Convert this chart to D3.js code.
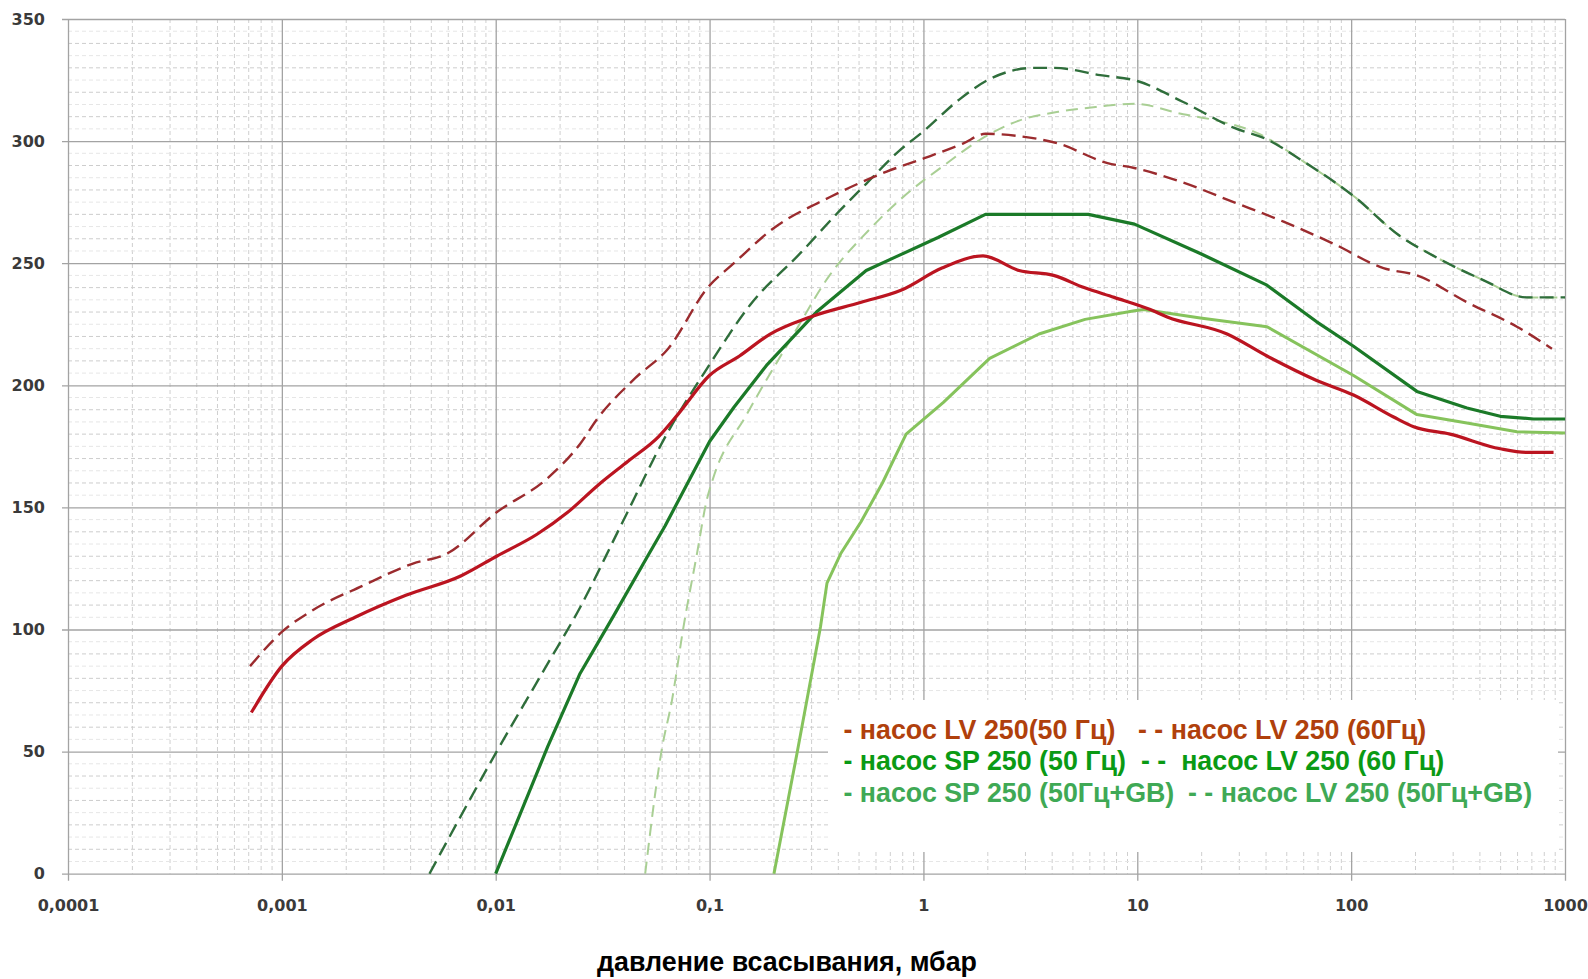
<!DOCTYPE html>
<html>
    <head>
        <title>давление всасывания</title>
        <meta charset="utf-8">
        <script src="https://d3js.org/d3.v7.min.js"></script>
        <style>
            body { margin: 0; background: #fff; }
            .tick text { font-family: "DejaVu Sans", sans-serif; font-weight: bold; font-size: 16px; fill: #3a3a3a; }
            .legend_text { font-family: "Liberation Sans", Arial, sans-serif; font-weight: bold; font-size: 26.8px; white-space: pre; }
            .axis_title { font-family: "Liberation Sans", Arial, sans-serif; font-weight: bold; font-size: 26.8px; fill: #000; }
        </style>
    </head>
    <body>
        <div id="container"></div>
        <script>
            // Data (pressure in mbar, value)
            const lv50_x = [0.00072, 0.001, 0.0014, 0.0022, 0.0038, 0.0069, 0.0101, 0.0156, 0.0217, 0.030, 0.0417, 0.0578, 0.071, 0.0998, 0.138, 0.192, 0.296, 0.512, 0.79, 1.22, 1.9, 2.8, 4.06, 5.64, 7.8, 11.5, 13.8, 26.3, 40.4, 69, 102.6, 158, 196, 290, 498, 664, 884]
            const lv50_y = [66, 85, 96, 105, 114, 122, 130, 139, 148, 159, 169, 179, 188, 204, 212, 221, 228, 234, 239, 248, 253, 247, 245, 240, 236, 231, 228, 221, 212, 202, 196, 187, 183, 180, 174, 172.5, 172.5]

            const lv60_x = [0.00071, 0.001, 0.0014, 0.0024, 0.0041, 0.0059, 0.0101, 0.0175, 0.0248, 0.0297, 0.045, 0.064, 0.098, 0.13, 0.197, 0.364, 0.673, 1.01, 1.53, 1.95, 2.82, 4.27, 7.26, 9.68, 16.4, 28.2, 48.3, 82.6, 141.6, 203, 348, 596, 869]
            const lv60_y = [85, 99, 108, 118, 127, 131, 148, 162, 176, 186, 203, 215, 240, 250, 264, 277, 287.5, 293, 299, 303, 302, 299, 291, 289, 283, 275, 267, 258, 248, 245, 234, 224, 215]

            const sp50_x = [0.01, 0.0175, 0.0248, 0.0358, 0.0513, 0.062, 0.079, 0.1, 0.13, 0.186, 0.316, 0.54, 0.76, 1.17, 1.95, 5.9, 9.7, 19.7, 40.4, 69, 102.6, 203, 348, 498, 713, 1000]
            const sp50_y = [0, 52, 82, 106, 130, 142.5, 160, 177, 191, 208.5, 230, 247, 253, 260.5, 270, 270, 266, 254, 241, 226, 216, 197.5, 190.7, 187.3, 186.2, 186.2]

            const lv60g_x = [0.0049, 0.0101, 0.0175, 0.0248, 0.0377, 0.064, 0.1, 0.155, 0.265, 0.406, 0.54, 0.77, 1.0, 1.47, 2.0, 3.3, 4.1, 6.7, 10, 16.4, 28.2, 40.4, 57.8, 102.6, 170, 243, 417, 661, 1000]
            const lv60g_y = [0, 50, 86, 109, 141, 181, 208.5, 233, 254, 271.5, 282.5, 296, 304, 317, 325, 330, 330, 327, 324.6, 316, 305.5, 300.7, 292.5, 277.5, 261, 253, 243, 236, 236]

            const sp50gb_x = [0.2, 0.256, 0.33, 0.354, 0.41, 0.51, 0.643, 0.83, 1.24, 2.04, 3.47, 5.7, 9.7, 10.7, 19.7, 40.4, 102.6, 203, 348, 596, 1000]
            const sp50gb_y = [0, 49, 101, 119, 131, 144, 160, 180, 193, 211, 221, 227, 230.5, 231, 227.6, 224, 204, 188, 184.6, 181, 180.5]

            const lv50gb_x = [0.05, 0.0598, 0.0667, 0.0755, 0.0873, 0.097, 0.104, 0.149, 0.24, 0.364, 0.548, 0.826, 1.245, 1.875, 2.82, 4.27, 6.43, 9.68, 16.4, 21.9, 37.6, 57.8, 102.6, 170, 243, 417, 661, 1000]
            const lv50gb_y = [0, 51, 71, 101, 131, 153, 162, 188, 219, 245, 263, 278, 290, 301, 308.5, 312, 314, 315.3, 311, 309, 302.7, 292.5, 277.5, 261, 253, 243, 236, 236]

            const x_ticks = [0.0001, 0.001, 0.01, 0.1, 1, 10, 100, 1000]
            const y_ticks = [0, 50, 100, 150, 200, 250, 300, 350]

            const legend_left = ["- насос LV 250(50 Гц)", "- насос SP 250 (50 Гц)", "- насос SP 250 (50Гц+GB)"]
            const legend_right = ["- - насос LV 250 (60Гц)", "- -  насос LV 250 (60 Гц)", "- - насос LV 250 (50Гц+GB)"]
            const axis_title = "давление всасывания, мбар"

            // Variables
            const w = 1588
            const h = 979
            const plot_left = 68
            const plot_right = 1565
            const plot_top = 19
            const plot_bottom = 873.7

            const xScale = d3.scaleLog().domain([0.0001, 1000]).range([plot_left, plot_right])
            const yScale = d3.scaleLinear().domain([0, 350]).range([plot_bottom, plot_top])

            const svg = d3.select("#container")
                .append("svg")
                .attr("width", w)
                .attr("height", h)

            svg.append("rect").attr("width", w).attr("height", h).attr("fill", "#fff")

            // Minor grid
            const minorX = []
            x_ticks.slice(0, -1).forEach(d => {
                for (let k = 2; k < 10; k++) minorX.push(d * k)
            })
            const minorY = d3.range(5, 350, 5).filter(d => d % 50 != 0)

            const grid = svg.append("g")
            grid.selectAll(".minor_x")
                .data(minorX)
                .enter()
                .append("line")
                .attr("x1", d => xScale(d))
                .attr("x2", d => xScale(d))
                .attr("y1", plot_top)
                .attr("y2", plot_bottom)
                .attr("stroke", "#cfcfcf")
                .attr("stroke-width", 1)
                .attr("stroke-dasharray", "4,3")

            grid.selectAll(".minor_y")
                .data(minorY)
                .enter()
                .append("line")
                .attr("x1", plot_left)
                .attr("x2", plot_right)
                .attr("y1", d => yScale(d))
                .attr("y2", d => yScale(d))
                .attr("stroke", d => d % 10 == 0 ? "#cdcdcd" : "#e6e6e6")
                .attr("stroke-width", 1)
                .attr("stroke-dasharray", "4,3")

            // Axes (major grid lines come from the ticks)
            const xAxis = d3.axisBottom(xScale)
                .tickValues(x_ticks)
                .tickFormat(d => String(d).replace(".", ","))
                .tickSizeInner(-(plot_bottom - plot_top) - 7)
                .tickSizeOuter(0)
                .tickPadding(19)

            const yAxis = d3.axisLeft(yScale)
                .tickValues(y_ticks)
                .tickSizeInner(-(plot_right - plot_left) - 6)
                .tickSizeOuter(0)
                .tickPadding(17)

            const gx = svg.append("g")
                .attr("transform", "translate(0," + (plot_bottom + 7) + ")")
                .call(xAxis)
            gx.select(".domain").remove()
            gx.selectAll(".tick line").attr("stroke", "#a3a3a3").attr("stroke-width", 1.3)
            gx.selectAll(".tick text").attr("y", 19).attr("dy", "0.71em")

            const gy = svg.append("g")
                .attr("transform", "translate(" + (plot_left - 6) + ",0)")
                .call(yAxis)
            gy.select(".domain").remove()
            gy.selectAll(".tick line").attr("stroke", "#a3a3a3").attr("stroke-width", 1.3)

            // Curves
            const series = [
                { x: lv50gb_x, y: lv50gb_y, color: "#a9cf94", width: 2, dash: "12,7", curve: d3.curveMonotoneX },
                { x: sp50gb_x, y: sp50gb_y, color: "#86c35c", width: 3, dash: null, curve: d3.curveLinear },
                { x: lv60g_x, y: lv60g_y, color: "#2f6e3b", width: 2.4, dash: "14,7", curve: d3.curveMonotoneX },
                { x: lv60_x, y: lv60_y, color: "#9b2b2e", width: 2.4, dash: "14,7", curve: d3.curveMonotoneX },
                { x: sp50_x, y: sp50_y, color: "#1b7a28", width: 3.2, dash: null, curve: d3.curveLinear },
                { x: lv50_x, y: lv50_y, color: "#bb1420", width: 3.2, dash: null, curve: d3.curveMonotoneX }
            ]

            series.forEach(s => {
                const pts = s.x.map((v, i) => [v, s.y[i]])
                const line = d3.line()
                    .x(d => xScale(d[0]))
                    .y(d => yScale(d[1]))
                    .curve(s.curve)
                svg.append("path")
                    .datum(pts)
                    .attr("d", line)
                    .attr("fill", "none")
                    .attr("stroke", s.color)
                    .attr("stroke-width", s.width)
                    .attr("stroke-dasharray", s.dash)
                    .attr("stroke-linejoin", "round")
            })

            // Legend
            svg.append("rect")
                .attr("x", 828)
                .attr("y", 700)
                .attr("width", 730)
                .attr("height", 152)
                .attr("fill", "#fff")

            const legend_colors = ["#b0400c", "#0a9a14", "#3fa955"]
            const legend_base = [738.5, 770, 801.5]
            const right_x = [1138, 1141, 1188]

            svg.selectAll(".legend_left")
                .data(legend_left)
                .enter()
                .append("text")
                .attr("class", "legend_text")
                .attr("x", 843.5)
                .attr("y", (d, i) => legend_base[i])
                .attr("fill", (d, i) => legend_colors[i])
                .text(d => d)

            svg.selectAll(".legend_right")
                .data(legend_right)
                .enter()
                .append("text")
                .attr("class", "legend_text")
                .attr("x", (d, i) => right_x[i])
                .attr("y", (d, i) => legend_base[i])
                .attr("fill", (d, i) => legend_colors[i])
                .text(d => d)

            // Axis title
            svg.append("text")
                .attr("class", "axis_title")
                .attr("x", 787)
                .attr("y", 971)
                .attr("text-anchor", "middle")
                .text(axis_title)
        </script>
    </body>
</html>
